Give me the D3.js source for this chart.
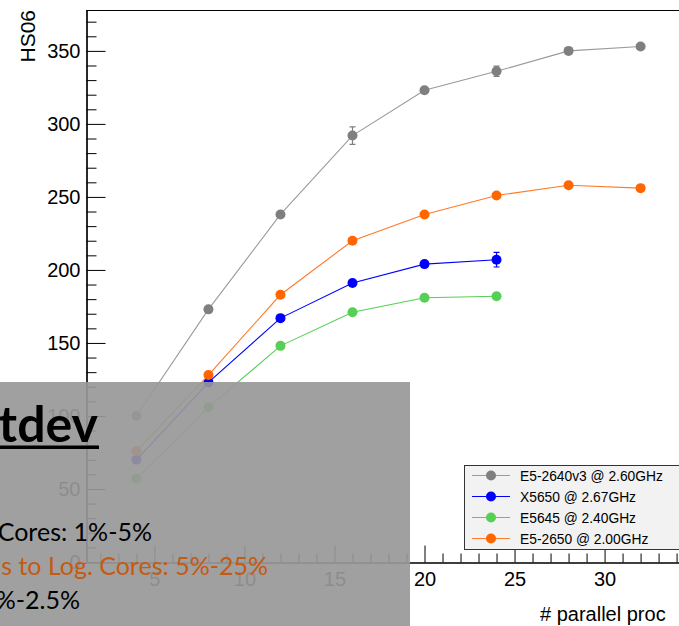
<!doctype html>
<html>
<head>
<meta charset="utf8">
<script src="https://d3js.org/d3.v7.min.js"></script>
<style>
  body { margin: 0; background: #fff; }
  svg { display: block; }
  .axis text { font-family: "Liberation Sans", Arial, sans-serif; font-size: 20px; fill: #000; }
  .axis path, .axis line { stroke: #000; }
</style>
</head>
<body>
<svg width="679" height="626"></svg>
<script>
// number of parallel processes
var procs = [4, 8, 12, 16, 20, 24, 28, 32];

// HS06 per machine type
var e52640v3 = [100, 173, 238, 292, 323, 336, 350, 353];
var e52640v3Err = [1, 1.5, 1.5, 6, 1.5, 3.5, 1.5, 1];
var x5650 = [70, 123, 167, 191, 204, 207];
var x5650Err = [1, 1, 1, 1, 1.5, 5];
var e5645 = [57, 106, 148, 171, 181, 182];
var e5645Err = [1, 1, 1, 1, 1, 1];
var e52650 = [76, 128, 183, 220, 238, 251, 258, 256];
var e52650Err = [1, 1, 1, 1, 1, 1, 1, 1];

var seriesNames = ["E5-2640v3 @ 2.60GHz", "X5650 @ 2.67GHz", "E5645 @ 2.40GHz", "E5-2650 @ 2.00GHz"];

var yMajor = [0, 50, 100, 150, 200, 250, 300, 350];
var xMajor = [5, 10, 15, 20, 25, 30, 35];

var series = [
    {name: seriesNames[0], y: e52640v3, err: e52640v3Err, marker: "#7f7f7f", line: "#9a9a9a"},
    {name: seriesNames[1], y: x5650, err: x5650Err, marker: "#0000ff", line: "#0000ff"},
    {name: seriesNames[2], y: e5645, err: e5645Err, marker: "#55d055", line: "#55d055"},
    {name: seriesNames[3], y: e52650, err: e52650Err, marker: "#ff6600", line: "#ff7a2a"}
];

var svg = d3.select("svg");

var x = d3.scaleLinear().domain([1.2, 35.3]).range([86, 700]);
var y = d3.scaleLinear().domain([0, 378]).range([562, 10]);

// frame
svg.append("line").attr("x1", 86).attr("x2", 700).attr("y1", 10.5).attr("y2", 10.5)
   .attr("stroke", "#000");

// minor ticks
var yMinor = d3.range(0, 378, 10).filter(function(d) { return d % 50 != 0; });
var xMinor = d3.range(2, 36, 1).filter(function(d) { return d % 5 != 0; });

svg.append("g")
   .attr("class", "axis")
   .attr("transform", "translate(86.5,0)")
   .call(d3.axisLeft(y).tickValues(yMinor).tickSizeInner(-10).tickSizeOuter(0).tickFormat(""));

svg.append("g")
   .attr("class", "axis")
   .attr("transform", "translate(86.5,0)")
   .call(d3.axisLeft(y).tickValues(yMajor).tickSizeInner(-19).tickSizeOuter(0).tickPadding(6));

svg.append("g")
   .attr("class", "axis")
   .attr("transform", "translate(0,562.5)")
   .call(d3.axisBottom(x).tickValues(xMinor).tickSizeInner(-9).tickSizeOuter(0).tickFormat(""));

svg.append("g")
   .attr("class", "axis")
   .attr("transform", "translate(0,562.5)")
   .call(d3.axisBottom(x).tickValues(xMajor).tickSizeInner(-17).tickSizeOuter(0).tickPadding(9)
       .tickFormat(function(d) { return d < 35 ? d : ""; }));

svg.selectAll(".axis .domain").attr("stroke-width", 1.2);

// axis titles
svg.append("text")
   .attr("transform", "translate(35,10) rotate(-90)")
   .attr("text-anchor", "end")
   .attr("font-family", "Liberation Sans, Arial, sans-serif")
   .attr("font-size", "21px")
   .text("HS06");

svg.append("text")
   .attr("x", 540)
   .attr("y", 621)
   .attr("font-family", "Liberation Sans, Arial, sans-serif")
   .attr("font-size", "20px")
   .text("# parallel proc");

// series
var line = d3.line()
    .x(function(d, i) { return x(procs[i]); })
    .y(function(d) { return y(d); });

series.forEach(function(s) {
    var g = svg.append("g");
    g.append("path")
     .attr("d", line(s.y))
     .attr("fill", "none")
     .attr("stroke", s.line)
     .attr("stroke-width", 1.1);

    g.selectAll(".err")
     .data(s.y)
     .enter().append("path")
     .attr("d", function(d, i) {
         var cx = x(procs[i]), y0 = y(d - s.err[i]), y1 = y(d + s.err[i]);
         return "M" + cx + "," + y0 + "V" + y1 +
                "M" + (cx - 3) + "," + y0 + "H" + (cx + 3) +
                "M" + (cx - 3) + "," + y1 + "H" + (cx + 3);
     })
     .attr("stroke", s.marker)
     .attr("stroke-width", 1.2)
     .attr("fill", "none");

    g.selectAll("circle")
     .data(s.y)
     .enter().append("circle")
     .attr("cx", function(d, i) { return x(procs[i]); })
     .attr("cy", function(d) { return y(d); })
     .attr("r", 5)
     .attr("fill", s.marker);
});

// legend
var lg = svg.append("g").attr("transform", "translate(464,465)");
lg.append("rect")
  .attr("x", 0.5).attr("y", 0.5)
  .attr("width", 240).attr("height", 84)
  .attr("fill", "#f2f2f2")
  .attr("stroke", "#333")
  .attr("stroke-width", 1);

series.forEach(function(s, i) {
    var cy = 10.5 + i * 21;
    lg.append("line")
      .attr("x1", 8).attr("x2", 46).attr("y1", cy).attr("y2", cy)
      .attr("stroke", s.line).attr("stroke-width", 1.2);
    lg.append("circle")
      .attr("cx", 27).attr("cy", cy).attr("r", 5).attr("fill", s.marker);
    lg.append("text")
      .attr("x", 56).attr("y", cy + 5)
      .attr("font-family", "Liberation Sans, Arial, sans-serif")
      .attr("font-size", "13.8px")
      .text(s.name);
});

// slide overlay box covering the lower left
svg.append("rect")
   .attr("x", 0).attr("y", 382)
   .attr("width", 410).attr("height", 244)
   .attr("fill", "rgb(152,152,152)")
   .attr("fill-opacity", 0.92);

var note = svg.append("g")
    .attr("font-family", "Lato, 'Open Sans', sans-serif");

note.append("text")
    .attr("x", 98).attr("y", 442)
    .attr("text-anchor", "end")
    .attr("font-size", "50px")
    .attr("font-weight", "bold")
    .text("tdev");
note.append("rect")
    .attr("x", 0).attr("y", 445.5)
    .attr("width", 99).attr("height", 3.5)
    .attr("fill", "#000");

note.append("text")
    .attr("x", 152).attr("y", 541)
    .attr("text-anchor", "end")
    .attr("font-size", "25px")
    .text("Cores: 1%-5%");

note.append("text")
    .attr("x", 268).attr("y", 575)
    .attr("text-anchor", "end")
    .attr("font-size", "25px")
    .attr("fill", "#c55a11")
    .text("s to Log. Cores: 5%-25%");

note.append("text")
    .attr("x", 80).attr("y", 609)
    .attr("text-anchor", "end")
    .attr("font-size", "25px")
    .text("%-2.5%");
</script>
</body>
</html>
